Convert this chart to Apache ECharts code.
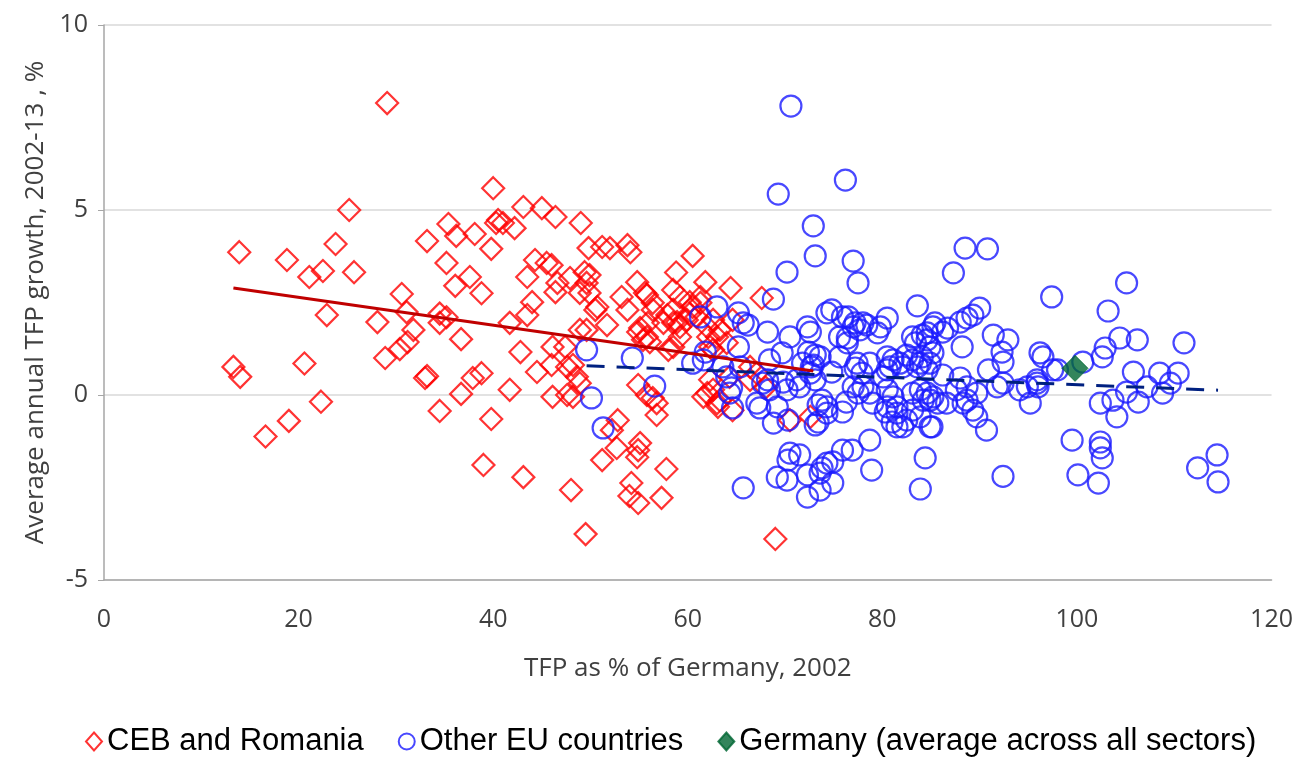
<!DOCTYPE html>
<html>
<head>
<meta charset="utf-8">
<script src="https://cdn.jsdelivr.net/npm/echarts@6/dist/echarts.min.js"></script>
<style>
html,body{margin:0;padding:0;background:#fff;}
#chart{width:1296px;height:766px;}
</style>
</head>
<body>
<div id="chart"></div>
<script>
// ---- DATA ----
const xTicks = [0, 20, 40, 60, 80, 100, 120];
const yTicks = [-5, 0, 5, 10];

const cebRomania = [
[13.3,0.76],[14.0,0.49],[13.9,3.86],[16.6,-1.12],[18.8,3.65],[19.0,-0.70],[20.6,0.85],[21.1,3.19],[22.5,3.35],[22.3,-0.18],
[22.9,2.16],[23.8,4.08],[25.2,5.0],[25.7,3.32],[28.1,1.97],[28.9,1.0],[29.1,7.89],[30.6,2.73],[31.1,2.24],[30.4,1.24],
[31.2,1.43],[31.8,1.76],[33.2,4.16],[33.2,0.51],[33.0,0.46],[34.5,2.2],[35.2,2.1],[34.5,1.95],[35.2,3.57],[35.4,4.62],
[36.2,4.30],[36.1,2.95],[36.7,1.51],[36.7,0.03],[34.5,-0.43],[37.6,3.19],[38.1,4.35],[38.8,2.75],[37.9,0.46],[38.8,0.59],
[39.8,3.95],[39.8,-0.65],[39.0,-1.89],[40.0,5.59],[40.3,4.65],[40.5,4.73],[41.0,4.65],[42.2,4.51],[41.7,1.95],[41.7,0.14],
[42.8,1.16],[43.1,5.08],[43.5,3.19],[43.5,2.16],[44.0,2.51],[44.3,3.65],[44.5,0.62],[43.1,-2.22],[45.0,5.05],[45.5,3.57],
[46.0,3.51],[46.0,0.81],[46.1,1.3],[46.1,-0.05],[46.4,4.81],[46.6,3.03],[46.4,2.78],[47.4,1.3],[47.6,0.76],[47.6,0.0],
[47.9,3.16],[48.0,-2.57],[48.6,0.49],[48.9,0.32],[48.9,1.76],[48.9,2.76],[49.0,4.65],[49.4,3.32],[49.6,3.03],[49.6,1.76],
[49.8,3.97],[49.9,3.24],[49.9,2.76],[49.5,-3.76],[50.7,2.38],[51.2,4.0],[51.7,1.89],[51.2,-1.76],[52.0,3.97],[52.8,-0.68],
[52.7,-1.43],[53.2,2.65],[53.8,4.05],[53.8,2.30],[54.1,3.86],[54.2,-2.38],[54.0,-2.73],[54.9,-2.92],[54.8,3.05],[54.9,1.70],
[54.9,0.27],[54.9,-1.49],[54.8,-1.68],[55.8,2.70],[55.8,1.57],[55.8,0.0],[55.9,1.95],[56.1,1.43],[56.4,2.49],[56.4,-0.08],
[56.8,-0.54],[57.3,-2.78],[57.8,-2.0],[57.5,1.95],[57.9,2.16],[58.5,1.95],[58.5,2.84],[58.8,3.31],[60.5,3.76],[61.8,3.05],
[64.4,2.89],[67.6,2.62],[59.2,2.65],[60.2,2.51],[60.5,2.38],[61.3,2.49],[60.9,2.11],[59.9,2.03],[58.9,1.97],[50.5,2.30],
[55.1,1.81],[55.4,1.49],[59.2,1.57],[58.0,1.22],[62.6,2.03],[63.3,1.76],[62.1,1.57],[62.6,1.22],[64.0,1.41],[48.2,0.81],
[48.2,-0.05],[56.8,-0.22],[52.2,-0.95],[55.1,-1.3],[62.3,0.41],[62.6,0.14],[63.3,-0.14],[63.1,-0.32],[61.6,-0.05],[64.3,0.49],
[62.0,0.05],[63.0,-0.22],[64.6,-0.41],[66.4,0.41],[70.5,-0.68],[72.6,-0.59],[69.0,-3.89],[55.6,2.76],[56.4,2.3],[58.5,2.3],
[61.3,2.65],[60.2,2.2],[59.2,1.84],[62.0,1.84],[63.0,1.57],[64.6,2.03],[58.5,1.3],[62.3,1.3],[66.4,0.76],[67.1,0.59],
[68.0,0.2]
];

const otherEU = [
[70.6,7.81],[76.2,5.81],[69.3,5.43],[72.9,4.57],[73.1,3.76],[77.0,3.62],[77.5,3.03],[70.2,3.32],[68.8,2.59],[83.6,2.41],
[63.0,2.38],[61.3,2.11],[65.2,2.22],[66.2,1.89],[68.2,1.70],[70.5,1.57],[72.3,1.84],[72.6,1.70],[74.3,2.22],[74.8,2.30],
[75.9,2.11],[77.0,1.84],[78.0,1.95],[75.6,1.57],[76.4,1.54],[79.5,1.68],[80.5,2.08],[85.4,1.95],[83.1,1.57],[84.6,1.68],
[65.2,1.30],[61.8,1.16],[60.5,0.86],[69.7,1.14],[68.4,0.95],[72.4,1.16],[73.6,1.03],[75.6,1.03],[63.6,0.76],[65.4,0.76],
[71.8,0.86],[72.7,0.76],[77.4,0.86],[78.7,0.86],[80.5,1.03],[81.1,0.95],[81.8,0.86],[83.1,0.95],[84.1,1.03],[84.9,0.86],
[65.7,1.95],[76.5,2.11],[77.2,1.95],[77.7,1.76],[78.4,1.89],[76.4,1.41],[61.6,0.95],[73.1,1.08],[72.9,0.81],[77.2,0.73],
[77.9,0.59],[74.8,0.62],[80.8,0.76],[64.0,0.49],[64.5,0.19],[64.3,0.05],[67.7,0.32],[68.2,0.41],[68.4,0.14],[69.8,0.35],
[70.2,0.14],[71.2,0.41],[71.5,0.22],[72.6,0.59],[73.1,0.41],[73.8,-0.14],[74.3,-0.32],[73.4,-0.27],[67.1,-0.22],[67.4,-0.35],
[69.2,-0.32],[68.8,-0.76],[70.3,-0.68],[73.1,-0.81],[73.4,-0.73],[75.9,-0.46],[76.3,-0.19],[77.0,0.22],[77.5,0.05],[78.0,0.22],
[78.7,0.05],[79.0,-0.22],[80.3,-0.46],[81.5,-0.32],[81.0,-0.73],[81.5,-0.86],[80.1,0.49],[80.5,0.68],[75.9,-1.49],[76.9,-1.49],
[78.7,-1.22],[70.5,-1.57],[71.5,-1.62],[70.3,-1.76],[74.3,-1.84],[74.9,-1.81],[73.8,-1.97],[65.7,-2.51],[69.2,-2.22],[70.2,-2.30],
[72.3,-2.16],[73.6,-2.11],[74.9,-2.38],[72.3,-2.76],[73.6,-2.57],[78.9,-2.03],[84.4,-1.70],[83.9,-2.54],[56.6,0.24],[64.6,-0.35],
[74.3,-0.49],[82.1,-0.86],[82.5,-0.68],[84.9,-0.86],[97.4,2.65],[79.8,1.84],[85.2,1.84],[86.2,1.70],[86.7,1.81],[88.0,1.97],
[88.7,2.08],[89.3,2.16],[90.0,2.35],[88.2,1.30],[91.4,1.62],[92.9,1.49],[92.3,1.16],[92.4,0.89],[90.9,0.68],[84.1,1.62],
[84.6,1.49],[83.4,1.41],[84.9,1.30],[82.5,1.08],[85.2,1.14],[83.9,0.86],[82.1,0.76],[83.6,0.76],[84.6,0.68],[86.2,0.54],
[88.0,0.46],[88.7,0.22],[91.8,0.22],[92.4,0.32],[94.9,0.22],[95.9,0.41],[96.5,1.03],[96.2,1.14],[97.5,0.68],[95.2,-0.22],
[94.1,0.14],[80.5,0.14],[81.1,-0.05],[80.5,-0.32],[81.5,-0.49],[83.1,0.05],[83.9,0.14],[84.6,0.05],[84.9,-0.14],[84.2,-0.14],
[85.2,-0.05],[85.7,-0.22],[83.1,-0.41],[83.9,-0.59],[85.1,-0.86],[86.6,-0.22],[87.6,0.14],[88.7,-0.14],[89.3,-0.41],[89.7,-0.59],
[90.7,-0.95],[92.4,-2.2],[99.5,-1.22],[88.5,3.97],[90.8,3.95],[87.3,3.30],[105.1,3.03],[103.2,2.27],[98.0,0.68],[100.6,0.89],
[102.6,1.03],[102.9,1.27],[104.4,1.54],[106.2,1.49],[111.0,1.41],[105.8,0.62],[108.5,0.59],[110.4,0.59],[109.6,0.32],[107.2,0.22],
[108.8,0.05],[105.1,0.08],[103.7,-0.14],[102.4,-0.22],[106.3,-0.19],[104.1,-0.59],[95.9,0.32],[96.0,0.22],[102.4,-1.27],[102.4,-1.43],
[102.6,-1.70],[100.1,-2.16],[102.2,-2.38],[112.4,-1.97],[114.4,-1.62],[114.5,-2.35],[88.3,-0.22],[89.7,0.05],[49.6,1.22],[54.3,1.0],
[50.1,-0.08],[51.3,-0.89]
];

const germany = [[99.8, 0.72]];

const cebTrend = [[13.3, 2.89], [72.9, 0.65]];
const euTrend = [[49.6, 0.79], [114.5, 0.13]];

const seriesNames = ['CEB and Romania', 'Other EU countries', 'Germany (average across all sectors)'];

// ---- CHART ----
const chart = echarts.init(document.getElementById('chart'));
const axisFont = 'Open Sans';
chart.setOption({
  animation: false,
  backgroundColor: '#ffffff',
  grid: { left: 104, right: 24, top: 25, bottom: 186, containLabel: false },
  legend: {
    bottom: 4,
    left: 80,
    data: seriesNames,
    itemGap: 34,
    itemWidth: 16,
    itemHeight: 18,
    textStyle: { fontFamily: 'Liberation Sans Narrow, Liberation Sans, sans-serif', fontSize: 31, color: '#000' }
  },
  xAxis: {
    type: 'value', min: xTicks[0], max: xTicks[xTicks.length - 1], interval: 20,
    name: 'TFP as % of Germany, 2002', nameLocation: 'middle', nameGap: 76,
    nameTextStyle: { fontFamily: axisFont, fontSize: 26, color: '#404040' },
    axisLine: { show: true, onZero: false, lineStyle: { color: '#a6a6a6', width: 1.5 } },
    axisTick: { show: false },
    axisLabel: { fontFamily: axisFont, fontSize: 25, color: '#404040', margin: 27 },
    splitLine: { show: false }
  },
  yAxis: {
    type: 'value', min: yTicks[0], max: yTicks[yTicks.length - 1], interval: 5,
    name: 'Average annual TFP growth, 2002-13 , %', nameLocation: 'middle', nameGap: 54,
    nameTextStyle: { fontFamily: axisFont, fontSize: 26, color: '#404040' },
    axisLine: { show: true, onZero: false, lineStyle: { color: '#a6a6a6', width: 1.5 } },
    axisTick: { show: true, inside: false, length: 6, lineStyle: { color: '#a6a6a6' } },
    axisLabel: { fontFamily: axisFont, fontSize: 25, color: '#404040', margin: 16 },
    splitLine: { show: true, lineStyle: { color: '#d9d9d9', width: 1.5 } }
  },
  series: [
    {
      name: seriesNames[0], type: 'scatter', data: cebRomania, symbol: 'diamond', symbolSize: [22, 22],
      itemStyle: { color: 'rgba(255,255,255,0)', borderColor: '#ff0000', borderWidth: 2.2 }, z: 2
    },
    {
      name: seriesNames[1], type: 'scatter', data: otherEU, symbol: 'circle', symbolSize: 21,
      itemStyle: { color: 'rgba(255,255,255,0)', borderColor: '#1a1aff', borderWidth: 2.2 }, z: 3
    },
    {
      name: 'cebTrend', type: 'line', data: cebTrend, symbol: 'none', silent: true,
      lineStyle: { color: '#c00000', width: 3 }, z: 4
    },
    {
      name: 'euTrend', type: 'line', data: euTrend, symbol: 'none', silent: true,
      lineStyle: { color: '#002080', width: 3, type: [18, 12] }, z: 4
    },
    {
      name: seriesNames[2], type: 'scatter', data: germany, symbol: 'diamond', symbolSize: [26, 26],
      itemStyle: { color: '#006633', borderColor: '#006633', borderWidth: 1 }, z: 5
    }
  ]
});
</script>
</body>
</html>
